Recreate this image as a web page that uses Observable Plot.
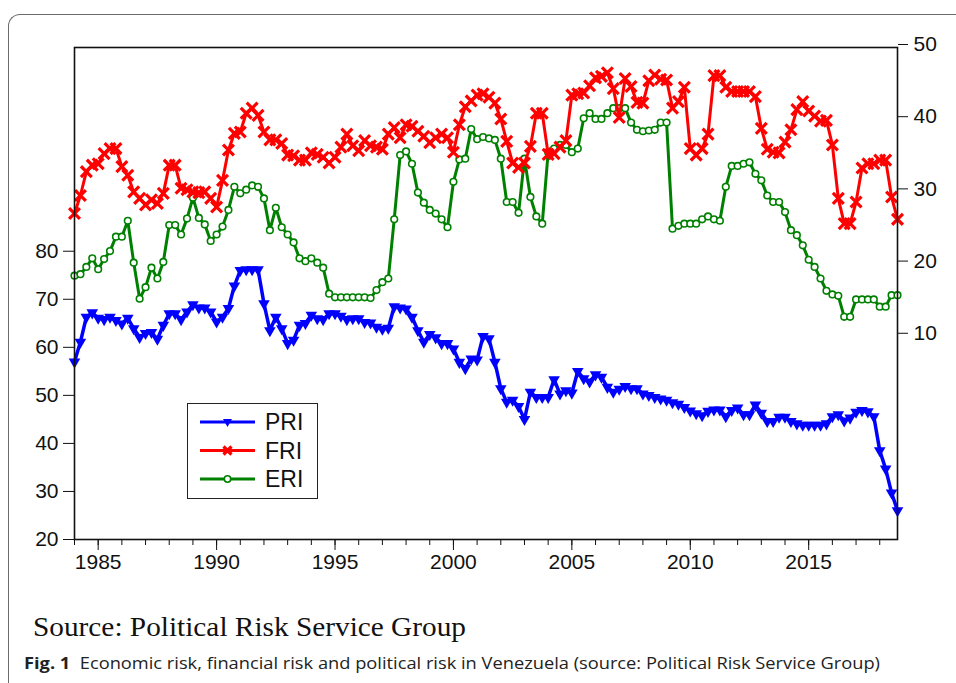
<!DOCTYPE html>
<html><head><meta charset="utf-8">
<script src="https://cdn.jsdelivr.net/npm/d3@7"></script>
<script src="https://cdn.jsdelivr.net/npm/@observablehq/plot@0.6"></script>
<style>
body{margin:0;background:#fff;width:956px;height:683px;overflow:hidden;position:relative;font-family:"Liberation Sans",Arial,sans-serif;}
#frame{position:absolute;left:8px;top:14px;width:1000px;height:720px;border-top:1.5px solid #6b6b6b;border-left:1.5px solid #6b6b6b;border-top-left-radius:12px;}
#chart{position:absolute;left:0;top:0;}
#chart svg text{font-family:"Liberation Sans",Arial,sans-serif !important;font-size:21px !important;fill:#111;}
#legend{position:absolute;left:187px;top:403px;width:131px;height:96px;border:1.5px solid #222;background:#fff;box-sizing:border-box}
#source{position:absolute;left:33px;top:612px;font-family:"Liberation Serif","Times New Roman",serif;font-size:27px;white-space:nowrap;color:#111;transform-origin:left top}
#caption{position:absolute;left:24px;top:652px;font-family:"Open Sans",sans-serif;font-size:16px;white-space:nowrap;transform-origin:left top;color:#222}
</style></head>
<body>
<div id="frame"></div>
<div id="chart"></div>
<div id="legend"></div>
<div id="source">Source: Political Risk Service Group</div>
<div id="caption"><b>Fig. 1</b>&nbsp; Economic risk, financial risk and political risk in Venezuela (source: Political Risk Service Group)</div>
<script>
// Quarterly data, 1984Q1 .. 2018Q4
const startYear = 1984;
const seriesNames = ["PRI", "FRI", "ERI"];
const seriesColors = ["#0000ff", "#ff0000", "#008000"];
const PRI = [57.0,61.1,66.3,67.2,66.1,65.8,66.3,65.6,64.9,66.1,63.9,62.1,62.9,63.1,61.7,64.6,67.0,67.0,65.8,67.4,
68.9,68.2,68.2,67.4,65.3,66.3,68.1,72.8,76.0,76.2,76.2,76.2,69.1,63.5,66.3,63.9,60.8,61.5,64.6,65.0,
66.7,66.0,65.8,67.0,67.0,66.5,65.8,66.0,66.0,65.2,65.1,64.2,63.8,64.0,68.5,68.2,68.0,66.3,63.5,61.1,
62.7,62.0,60.8,60.8,59.7,56.9,55.6,57.6,57.4,62.3,61.8,56.9,51.4,48.6,49.0,47.7,45.0,50.7,49.6,49.6,
49.6,53.3,50.3,51.0,50.5,55.0,53.5,52.8,54.3,53.8,51.7,50.7,51.3,51.9,51.4,51.4,50.3,50.0,49.6,49.3,
49.0,48.5,48.2,47.5,46.8,46.2,45.8,46.7,47.0,47.0,45.6,46.9,47.4,46.0,46.0,48.0,46.3,44.6,44.6,45.5,
45.5,44.6,44.1,43.8,43.8,43.8,43.8,44.1,45.6,46.0,44.7,45.3,46.5,46.9,46.6,45.6,38.5,34.7,29.7,26.0];
const FRI = [27.0,29.5,32.8,33.7,33.9,35.3,36.0,36.0,33.5,32.3,30.0,29.1,28.2,28.9,28.4,29.8,33.7,33.7,30.5,30.3,
30.0,29.9,30.0,29.1,27.9,31.6,35.8,38.1,38.3,40.9,41.6,40.6,38.3,37.2,37.2,36.7,35.1,35.0,34.4,34.4,
35.4,35.2,34.8,34.0,34.8,36.2,38.0,36.4,35.7,37.1,36.4,36.2,35.9,38.0,38.9,37.5,39.3,39.1,38.4,37.7,
36.8,37.5,38.0,37.5,35.5,39.3,41.8,42.6,43.4,43.6,43.1,42.3,40.1,37.0,34.0,33.4,34.0,36.3,40.9,40.9,
35.2,35.3,36.2,37.1,43.4,43.6,43.7,44.7,45.8,46.0,46.5,44.3,40.3,45.7,44.6,42.4,42.3,45.4,46.2,45.6,
45.5,41.6,42.5,44.5,36.0,35.1,36.0,38.0,46.1,46.1,44.5,43.9,43.9,43.9,43.9,43.2,38.8,35.9,35.5,35.4,
36.9,38.6,41.4,42.5,41.2,40.5,39.8,39.9,36.5,29.1,25.6,25.6,28.6,33.3,33.9,33.9,34.4,34.4,29.3,26.2];
const ERI = [18.4,18.6,19.6,20.8,19.3,20.7,21.8,23.8,23.8,26.0,20.2,15.2,16.8,19.5,18.0,20.3,25.4,25.4,24.1,26.3,
29.2,26.4,25.5,23.2,24.1,25.2,27.5,30.7,29.8,30.3,30.9,30.7,29.1,24.7,27.8,25.1,24.1,23.0,20.8,20.4,
20.8,20.2,19.5,15.9,15.4,15.4,15.4,15.4,15.4,15.4,15.3,16.4,17.5,18.0,26.2,35.1,35.6,33.9,29.9,28.5,
27.5,27.0,26.2,25.1,31.4,34.5,34.6,38.7,37.3,37.6,37.4,37.2,34.6,28.6,28.6,27.1,34.6,29.3,26.6,25.6,
35.5,36.0,36.5,36.5,35.5,36.0,40.2,40.9,40.1,40.1,40.9,41.6,41.6,41.6,39.6,38.6,38.4,38.5,38.6,39.6,
39.6,24.9,25.3,25.6,25.6,25.6,26.2,26.6,26.2,26.0,30.7,33.6,33.6,33.9,34.1,32.5,31.6,29.5,28.6,28.6,
27.2,24.7,24.0,22.6,20.6,19.6,18.0,16.3,15.8,15.6,12.7,12.7,15.1,15.1,15.1,15.1,14.1,14.1,15.7,15.7];
const leftTicks = [20, 30, 40, 50, 60, 70, 80];
const rightTicks = [10, 20, 30, 40, 50];
const yearTicks = d3.range(1984, 2019);
const labelYears = [1985, 1990, 1995, 2000, 2005, 2010, 2015];

// left axis domain and mapping of right-axis values onto it
const leftMin = 20, leftMax = 122.4, rightMax = 50, rightScale = 1.5026;
const toLeft = v => leftMax - (rightMax - v) * rightScale;
const fromLeft = y => rightMax - (leftMax - y) / rightScale;

const t = i => startYear + i / 4;
const rows = s => (s === "PRI" ? PRI : s === "FRI" ? FRI : ERI).map((v, i) => ({
  t: t(i), v, y: s === "PRI" ? v : toLeft(v)
}));
const pri = rows("PRI"), fri = rows("FRI"), eri = rows("ERI");

const font = "Liberation Sans, Arial, sans-serif";
const chart = Plot.plot({
  width: 956, height: 575,
  marginLeft: 74, marginRight: 59, marginTop: 47, marginBottom: 36,
  style: {fontFamily: font, fontSize: "21px", color: "#111", background: "transparent", overflow: "visible"},
  x: {domain: [1984, 2018.75]},
  y: {domain: [leftMin, leftMax]},
  marks: [
    Plot.line(eri, {x: "t", y: "y", stroke: seriesColors[2], strokeWidth: 3}),
    Plot.dot(eri, {x: "t", y: "y", symbol: "circle", r: 3.3, fill: "white", stroke: seriesColors[2], strokeWidth: 1.6}),
    Plot.line(fri, {x: "t", y: "y", stroke: seriesColors[1], strokeWidth: 3}),
    Plot.dot(fri, {x: "t", y: "y", symbol: "times", r: 5, stroke: seriesColors[1], strokeWidth: 3.2}),
    Plot.line(pri, {x: "t", y: "y", stroke: seriesColors[0], strokeWidth: 3.5}),
    Plot.dot(pri, {x: "t", y: "y", symbol: "triangle", rotate: 180, r: 4.3, fill: seriesColors[0], stroke: "none"}),
    Plot.axisY(leftTicks, {anchor: "left", tickSize: 11, tickPadding: 5, label: null, strokeWidth: 1}),
    Plot.axisY(rightTicks.map(toLeft), {anchor: "right", tickSize: 10, tickPadding: 6, label: null, dy: -3,
      tickFormat: d => Math.round(fromLeft(d))}),
    Plot.axisX(yearTicks, {anchor: "bottom", tickSize: 6, tickFormat: () => "", label: null}),
    Plot.axisX(labelYears, {anchor: "bottom", tickSize: 11, tickPadding: 4, label: null, tickFormat: d => String(d)}),
    Plot.frame({stroke: "#111", strokeWidth: 1.6})
  ]
});
document.getElementById("chart").appendChild(chart);

// legend
const lg = d3.select("#legend").append("svg").attr("width", 128).attr("height", 93);
seriesNames.forEach((name, k) => {
  const yy = 18 + k * 28.5;
  const g = lg.append("g");
  g.append("line").attr("x1", 12).attr("x2", 67).attr("y1", yy).attr("y2", yy)
    .attr("stroke", seriesColors[k]).attr("stroke-width", 3.2);
  if (k === 0) g.append("path").attr("d", `M${39.5-4.5},${yy-3} L${39.5+4.5},${yy-3} L39.5,${yy+5} Z`).attr("fill", seriesColors[0]);
  if (k === 1) g.append("path").attr("d", `M35.5,${yy-4} L43.5,${yy+4} M35.5,${yy+4} L43.5,${yy-4}`).attr("stroke", seriesColors[1]).attr("stroke-width", 3.2);
  if (k === 2) g.append("circle").attr("cx", 39.5).attr("cy", yy).attr("r", 3.2).attr("fill", "white").attr("stroke", seriesColors[2]).attr("stroke-width", 1.6);
  g.append("text").attr("x", 77).attr("y", yy + 8).attr("font-size", 23).attr("font-family", font).attr("fill", "#111").text(name);
});

// fit caption widths
function fit(id, w) {
  const el = document.getElementById(id);
  const nat = el.getBoundingClientRect().width;
  el.style.transform = `scaleX(${w / nat})`;
}
fit("source", 433);
fit("caption", 856);
</script>
</body></html>
